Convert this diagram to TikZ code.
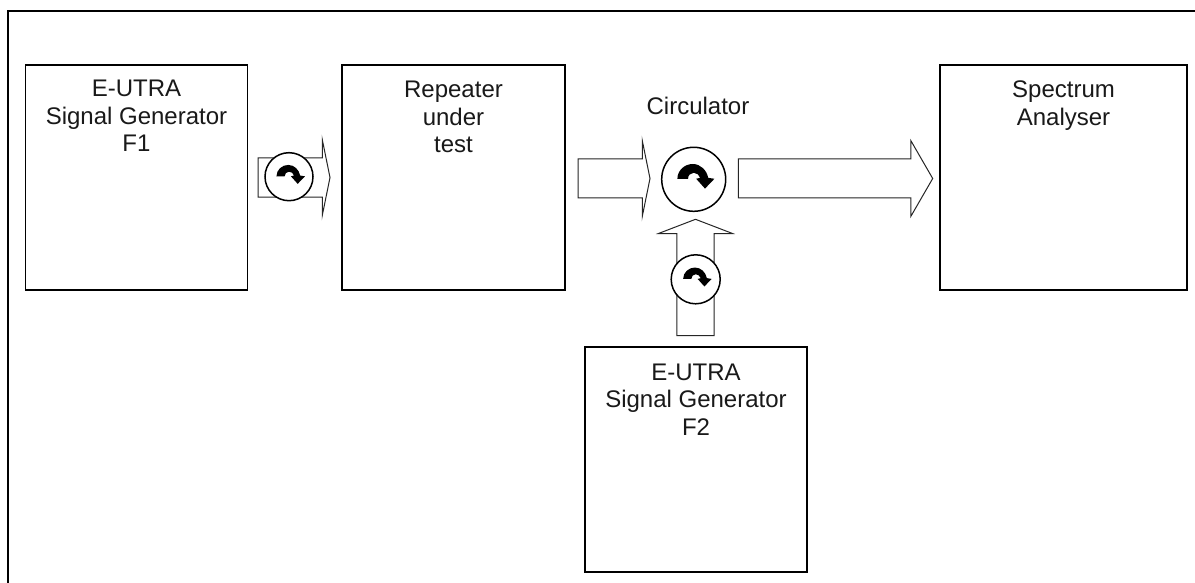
\documentclass[tikz,border=0pt]{standalone}
\usepackage{fontspec}
\setmainfont{Liberation Sans}
\usetikzlibrary{shapes.arrows}
\tikzset{
  blockbox/.style={draw=black,line width=1.6pt,fill=white,rectangle,inner sep=0pt,outer sep=0pt,anchor=north west},
  blocktext/.style={anchor=north,inner sep=0pt,outer sep=0pt,align=center,font=\fontsize{24}{27.5}\selectfont,text=black!90},
  bigarrow/.style={draw=black!85,line width=1pt,fill=white,single arrow,inner xsep=0pt,outer sep=0pt,anchor=tail},
  circulatorring/.style={draw=black,line width=1.5pt,fill=white,circle,inner sep=0pt,outer sep=0pt},
  pics/turnglyph/.style={code={
    \fill[black] (-16.3,-.5) .. controls (-16.3,-9) and (-9,-15.3) .. (-1,-15.3)
      .. controls (7,-15.3) and (13,-9) .. (14.5,-1.5)
      -- (20.7,-.5) -- (11.3,9.3) -- (2.5,-.5) -- (6.5,-1.5)
      .. controls (5.5,-4.5) and (3,-6.5) .. (0,-6.5)
      .. controls (-3,-6.5) and (-5.7,-4) .. (-5.7,-.5) -- cycle;
  }}
}
\begin{document}
\begin{tikzpicture}[x=1pt,y=-1pt]
\useasboundingbox (0,0) rectangle (1195,583);
\draw[line width=2pt,black] (8,583) -- (8,11) -- (1195,11);

% boxes
\node[blockbox,minimum width=222pt,minimum height=225pt] (gen1) at (25.5,65) {};
\node[blockbox,minimum width=223pt,minimum height=225pt] (rep) at (342,65) {};
\node[blockbox,minimum width=247pt,minimum height=225pt] (sa) at (940,65) {};
\node[blockbox,minimum width=222pt,minimum height=225pt] (gen2) at (585,347) {};

% texts
\node[blocktext,yshift=-12.75pt] (gen1t) at (gen1.north) {\strut E-UTRA\\Signal Generator\\F1};
\node[blocktext,yshift=-13.75pt] (rept) at (rep.north) {\strut Repeater\\under\\test};
\node[blocktext,yshift=-13.75pt] (sat) at (sa.north) {\strut Spectrum\\Analyser};
\node[blocktext,yshift=-13.75pt] (gen2t) at (gen2.north) {\strut E-UTRA\\Signal Generator\\F2};
\node[blocktext,anchor=base] (circt) at (698,115) {Circulator};

% block arrows
\node[bigarrow,inner ysep=19.2pt,minimum height=72pt,minimum width=75pt,single arrow tip angle=157,single arrow head extend=18.3pt] (a1) at (258,177.5) {};
\node[bigarrow,inner ysep=19pt,minimum height=72pt,minimum width=75pt,single arrow tip angle=157,single arrow head extend=18.5pt] (a2) at (578,178.5) {};
\node[bigarrow,inner ysep=19pt,minimum height=194.4pt,minimum width=75pt,single arrow tip angle=120,single arrow head extend=18.5pt] (a3) at (738.3,178.5) {};
\node[bigarrow,inner xsep=18.2pt,inner ysep=0pt,minimum height=116.4pt,minimum width=73pt,single arrow tip angle=138,single arrow head extend=18.3pt,shape border rotate=90] (a4) at (695.5,335.7) {};

% circulators
\node[circulatorring,minimum size=48pt] (c1) at (289,176.7) {};
\node[circulatorring,minimum size=64pt] (c2) at (693.7,179.3) {};
\node[circulatorring,minimum size=49pt] (c3) at (695.7,279.3) {};
\pic[scale=.77] at (c1.center) {turnglyph};
\pic at (c2.center) {turnglyph};
\pic[scale=.77] at (c3.center) {turnglyph};
\end{tikzpicture}
\end{document}
